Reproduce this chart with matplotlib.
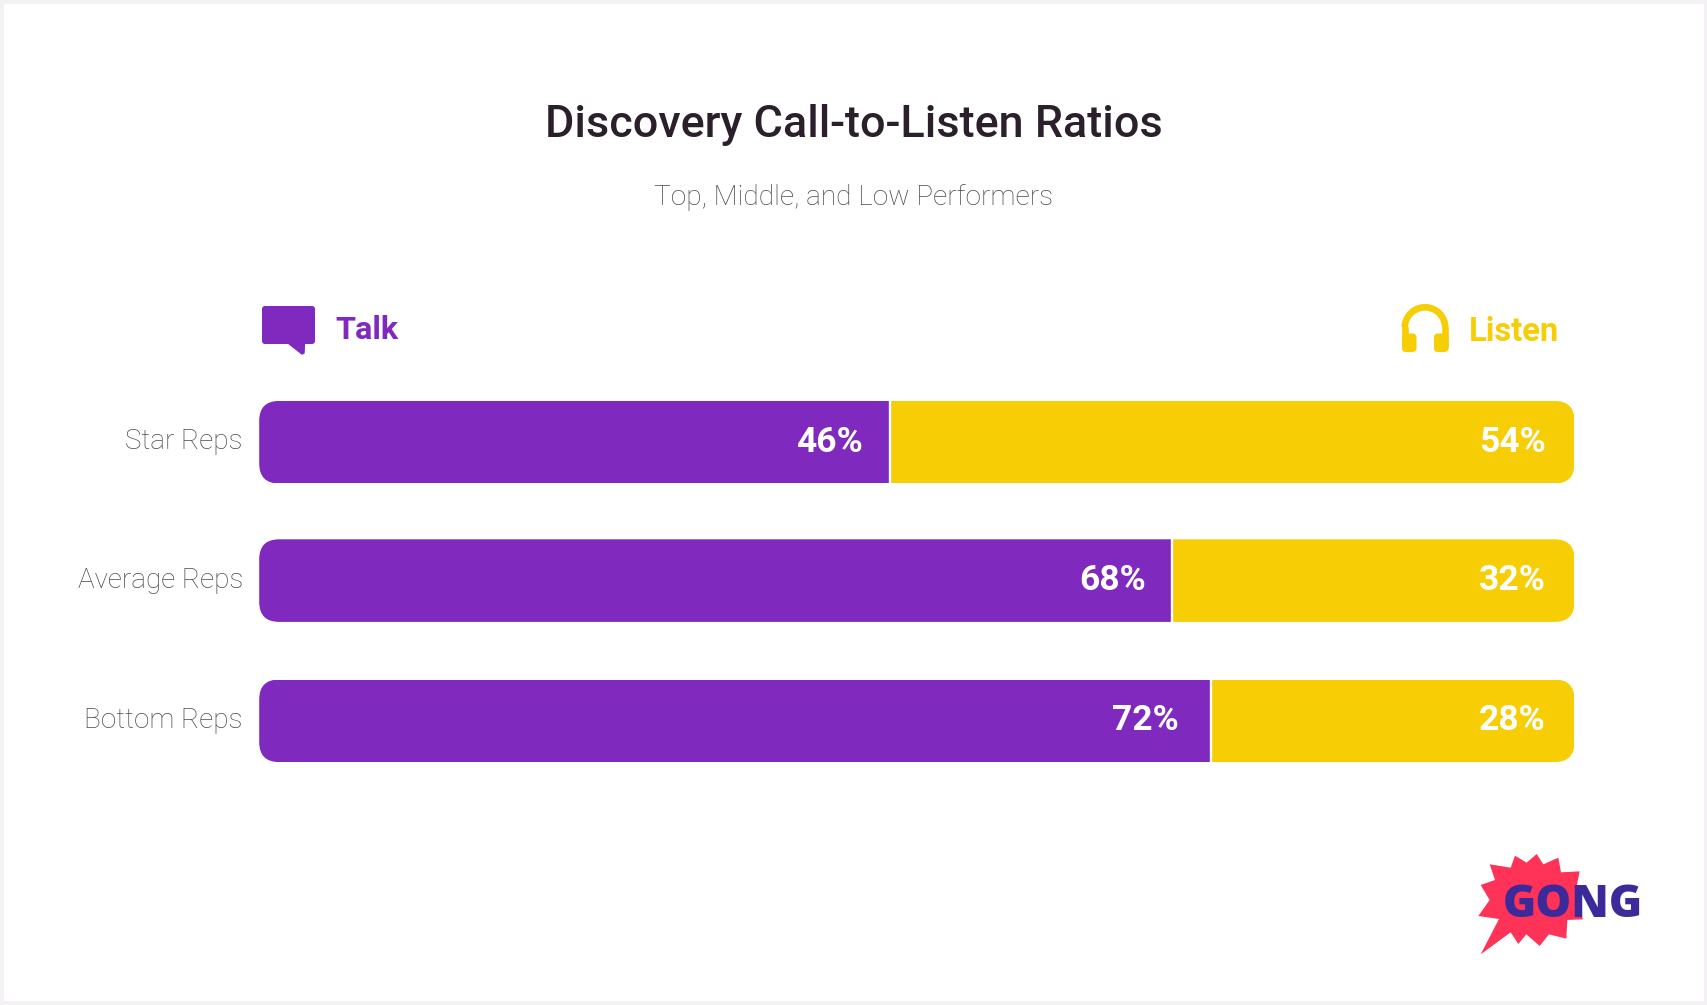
import matplotlib
matplotlib.use("Agg")
import matplotlib.pyplot as plt
from matplotlib.patches import FancyBboxPatch, Polygon, Arc, Rectangle

categories = ["Star Reps", "Average Reps", "Bottom Reps"]
talk_labels = ["46%", "68%", "72%"]
listen_labels = ["54%", "32%", "28%"]
# drawn bar lengths as they appear in the picture (share of full bar)
talk_lengths = [47.93, 69.38, 72.33]
listen_lengths = [52.07, 30.62, 27.67]

PURPLE = "#8029BF"
YELLOW = "#F7CE05"
GREY = "#4A4A4A"
W, H = 1708, 1005

fig = plt.figure(figsize=(W / 100, H / 100), dpi=100, facecolor="#F3F1F4")

# pixel-space layer for the card and decoration
bg = fig.add_axes([0, 0, 1, 1], zorder=0)
bg.set_xlim(0, W); bg.set_ylim(H, 0); bg.axis("off")
bg.add_patch(Rectangle((4, 4), 1700, 997, fc="white", ec="none"))

# bars: y axis runs in figure pixels so the slightly uneven row spacing is kept
BL, BR = 259.2, 1574.5
row_centers = [442.2, 580.6, 720.8]
bar_h = 82.6
ax = fig.add_axes([BL / W, 0, (BR - BL) / W, 1], zorder=1)
ax.patch.set_alpha(0)
ax.set_xlim(0, 100)
ax.set_ylim(H, 0)
ax.axis("off")
b1 = ax.barh(row_centers, talk_lengths, height=bar_h, color=PURPLE, linewidth=0)
b2 = ax.barh(row_centers, listen_lengths, left=talk_lengths, height=bar_h, color=YELLOW, linewidth=0)
ax.vlines(talk_lengths, [c - bar_h / 2 for c in row_centers],
          [c + bar_h / 2 for c in row_centers], color="white", lw=1.7, zorder=3)

fig.canvas.draw()
for i, c in enumerate(row_centers):
    top = ax.transData.transform((0, c - bar_h / 2))[1]
    bot = ax.transData.transform((0, c + bar_h / 2))[1]
    x0 = ax.transData.transform((0, 0))[0]
    x1 = ax.transData.transform((100, 0))[0]
    r = 20
    clip = FancyBboxPatch((x0 + r, bot + r), x1 - x0 - 2 * r, top - bot - 2 * r,
                          boxstyle=f"round,pad={r},rounding_size={r}",
                          transform=None, fc="none", ec="none")
    b1[i].set_clip_path(clip)
    b2[i].set_clip_path(clip)

# overlay for text and icons
ov = fig.add_axes([0, 0, 1, 1], zorder=2)
ov.patch.set_alpha(0)
ov.set_xlim(0, W); ov.set_ylim(H, 0); ov.axis("off")

ov.text(854, 125, "Discovery Call-to-Listen Ratios", ha="center", va="center",
        family="Roboto", fontsize=32.4, fontweight="medium", color="#2A1F2B")
ov.text(854, 197, "Top, Middle, and Low Performers", ha="center", va="center",
        family="Roboto", fontsize=20.2, fontweight="light", color=GREY)

label_y = [441, 580, 720]
talk_label_right = [863, 1146, 1179]
for i, c in enumerate(categories):
    ov.text(243, label_y[i], c, ha="right", va="center", family="Roboto",
            fontsize=20.1, fontweight="light", color=GREY)
    ov.text(talk_label_right[i], row_centers[i], talk_labels[i], ha="right", va="center",
            family="Roboto", fontsize=25.5, fontweight="bold", color="white")
    ov.text(1545.5, row_centers[i], listen_labels[i], ha="right", va="center",
            family="Roboto", fontsize=25.5, fontweight="bold", color="white")

# legend
ov.text(335, 330, "Talk", ha="left", va="center", family="Roboto", fontsize=23.3,
        fontweight="bold", color=PURPLE)
ov.text(1469, 332, "Listen", ha="left", va="center", family="Roboto", fontsize=23.5,
        fontweight="bold", color=YELLOW)

# speech-bubble icon
ov.add_patch(FancyBboxPatch((264, 308), 49, 34, boxstyle="round,pad=2,rounding_size=3",
                            fc=PURPLE, ec="none"))
ov.add_patch(Polygon([(288, 343), (302, 354), (304, 353), (304.5, 343)], fc=PURPLE, ec=PURPLE, lw=1))

# headphones icon
cx, cy, rr = 1425, 327.5, 20.2
ov.add_patch(Arc((cx, cy), 2 * rr, 2 * rr, theta1=180, theta2=360, color=YELLOW, lw=4.8))
ov.plot([cx - rr, cx - rr], [cy, 346], color=YELLOW, lw=4.8, solid_capstyle="round")
ov.plot([cx + rr, cx + rr], [cy, 346], color=YELLOW, lw=4.8, solid_capstyle="round")
for x in (1402, 1434):
    ov.add_patch(FancyBboxPatch((x + 4, 337.5), 6.5, 10.5,
                                boxstyle="round,pad=4,rounding_size=4", fc=YELLOW, ec="none"))

# logo
star = [(95, 343), (150, 237), (88, 228), (122, 180), (95, 135), (138, 120), (122, 73),
        (185, 83), (198, 47), (233, 68), (263, 42), (283, 73), (328, 53), (336, 97),
        (392, 94), (378, 165), (402, 238), (355, 240), (352, 296), (300, 283),
        (272, 318), (232, 283), (208, 312), (185, 277)]
ov.add_patch(Polygon([(1449 + x / 3, 840 + y / 3) for x, y in star], fc="#FF3358", ec="none"))
ov.text(1503, 905, "GONG", ha="left", va="center", family="Open Sans", fontsize=32.5,
        fontweight=800, color="#3C2A9B")

fig.savefig("out.png", dpi=100, facecolor=fig.get_facecolor())
